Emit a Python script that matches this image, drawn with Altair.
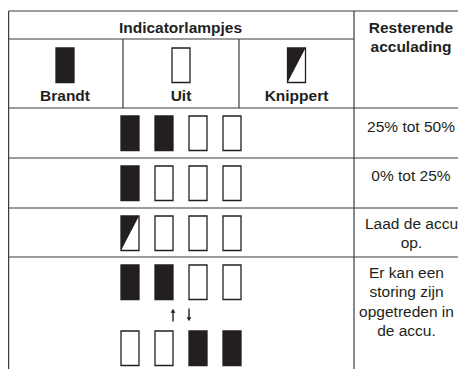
import altair as alt
import pandas as pd

# ---------------- content ----------------
header_left = "Indicatorlampjes"
header_right = ["Resterende", "acculading"]
legend_labels = ["Brandt", "Uit", "Knippert"]
legend_states = ["aan", "uit", "knippert"]
row_patterns = [
    [["aan", "aan", "uit", "uit"]],
    [["aan", "uit", "uit", "uit"]],
    [["knippert", "uit", "uit", "uit"]],
    [["aan", "aan", "uit", "uit"], ["uit", "uit", "aan", "aan"]],
]
row_texts = [
    ["25% tot 50%"],
    ["0% tot 25%"],
    ["Laad de accu", "op."],
    ["Er kan een", "storing zijn", "opgetreden in", "de accu."],
]
arrow_dirs = ["op", "neer"]  # wissel tussen de twee patronen in rij 4

# ---------------- layout (page pixels) ----------------
COL = [7, 123, 239, 354, 466]          # column edges
ROW = [11, 39, 108, 158, 208, 257, 380]  # row edges
LAMP_W, LAMP_H, LAMP_GAP = 18, 34.5, 34
LAMP_TOP = 8
PATTERN_STEP = 66
GROUP_CX = (COL[0] + COL[3]) / 2 + 0.5
TEXT_X = (COL[3] + COL[4]) / 2
TEXT_DX = [1, 1, 1.5, -3.5]
FS = 15.5
LINE_H = 19.3
FIRST_BASELINE = [24, 22.5, 21, 21]
INK = "#231f20"
LINE = "#3a3a3a"
FONT = "Liberation Sans"

W, H = 450, 361
XS = alt.Scale(domain=[8, 8 + W], nice=False, zero=False)
YS = alt.Scale(domain=[8, 8 + H], nice=False, zero=False, reverse=True)

# ---------------- grid lines ----------------
left = COL[0] + 1.6  # keep the outer border inside the page
lines = [
    (left, ROW[0], COL[4], ROW[0]),
    (left, ROW[1], COL[3], ROW[1]),
    (left, ROW[2], COL[4], ROW[2]),
    (left, ROW[3], COL[4], ROW[3]),
    (left, ROW[4], COL[4], ROW[4]),
    (left, ROW[5], COL[4], ROW[5]),
    (left, ROW[0], left, ROW[6]),
    (COL[3], ROW[0], COL[3], ROW[6]),
    (COL[1], ROW[1], COL[1], ROW[2]),
    (COL[2], ROW[1], COL[2], ROW[2]),
]
lines_df = pd.DataFrame(lines, columns=["x", "y", "x2", "y2"])

# ---------------- lamps ----------------
lamps = []
for c, st in enumerate(legend_states):
    cx = (COL[c] + COL[c + 1]) / 2
    top = ROW[1] + 9
    lamps.append(dict(id=f"L{c}", state=st, x=cx - LAMP_W / 2, x2=cx + LAMP_W / 2,
                      y=top, y2=top + LAMP_H))
for r, pats in enumerate(row_patterns):
    for p, pat in enumerate(pats):
        top = ROW[r + 2] + LAMP_TOP + p * PATTERN_STEP
        for k, st in enumerate(pat):
            cx = GROUP_CX + (k - 1.5) * LAMP_GAP
            lamps.append(dict(id=f"R{r}P{p}K{k}", state=st, x=cx - LAMP_W / 2,
                              x2=cx + LAMP_W / 2, y=top, y2=top + LAMP_H))
lamps_df = pd.DataFrame(lamps)

# blinking lamps: black upper-left triangle
tri = []
for _, l in lamps_df[lamps_df.state == "knippert"].iterrows():
    tri.append(dict(id=l.id, x=l.x, y=l.y, y2=l.y2))
    tri.append(dict(id=l.id, x=l.x2, y=l.y, y2=l.y))
tri_df = pd.DataFrame(tri)

# ---------------- arrows (row 4) ----------------
a_top = ROW[5] + LAMP_TOP + LAMP_H + 9
a_bot = a_top + 13
arrows = []
shafts = []
for i, d in enumerate(arrow_dirs):
    ax = GROUP_CX + (i - 0.5) * 16
    if d == "op":
        shafts.append(dict(x=ax, y=a_top + 3, y2=a_bot))
        arrows.append(dict(x=ax, y=a_top + 2.2, dir=d))
    else:
        shafts.append(dict(x=ax, y=a_top, y2=a_bot - 3))
        arrows.append(dict(x=ax, y=a_bot - 2.2, dir=d))
shaft_df = pd.DataFrame(shafts)
head_df = pd.DataFrame(arrows)

# ---------------- texts ----------------
bold = [dict(text=header_left, x=(COL[0] + COL[3]) / 2, y=ROW[0] + 22)]
for i, t in enumerate(header_right):
    bold.append(dict(text=t, x=TEXT_X + 1, y=ROW[0] + 22 + i * 19))
for c, t in enumerate(legend_labels):
    bold.append(dict(text=t, x=(COL[c] + COL[c + 1]) / 2, y=ROW[2] - 7))
bold_df = pd.DataFrame(bold)

reg = []
for r, tl in enumerate(row_texts):
    for i, t in enumerate(tl):
        reg.append(dict(text=t, x=TEXT_X + TEXT_DX[r],
                        y=ROW[r + 2] + FIRST_BASELINE[r] + i * LINE_H))
reg_df = pd.DataFrame(reg)

X = lambda f="x": alt.X(f"{f}:Q", scale=XS, axis=None)
Y = lambda f="y": alt.Y(f"{f}:Q", scale=YS, axis=None)

grid = alt.Chart(lines_df).mark_rule(color=LINE, strokeWidth=1.2).encode(
    x=X(), y=Y(), x2="x2:Q", y2="y2:Q")

lamp_layer = alt.Chart(lamps_df).mark_rect(stroke=INK, strokeWidth=1.3).encode(
    x=X(), x2="x2:Q", y=Y(), y2="y2:Q",
    fill=alt.Fill("state:N", scale=alt.Scale(domain=["aan", "uit", "knippert"],
                                             range=[INK, "white", "white"]), legend=None))

tri_layer = alt.Chart(tri_df).mark_area(color=INK, opacity=1).encode(
    x=X(), y=Y(), y2="y2:Q", detail="id:N")

shaft_layer = alt.Chart(shaft_df).mark_rule(color=INK, strokeWidth=1.4).encode(
    x=X(), y=Y(), y2="y2:Q")

head_layer = alt.Chart(head_df).mark_point(filled=True, size=22, color=INK, opacity=1).encode(
    x=X(), y=Y(),
    shape=alt.Shape("dir:N", scale=alt.Scale(domain=["op", "neer"],
                                             range=["triangle-up", "triangle-down"]), legend=None))

bold_layer = alt.Chart(bold_df).mark_text(font=FONT, fontSize=FS, fontWeight="bold",
                                          color=INK, baseline="alphabetic", align="center").encode(
    x=X(), y=Y(), text="text:N")

reg_layer = alt.Chart(reg_df).mark_text(font=FONT, fontSize=FS, color=INK,
                                        baseline="alphabetic", align="center").encode(
    x=X(), y=Y(), text="text:N")

chart = alt.layer(grid, lamp_layer, tri_layer, shaft_layer, head_layer,
                  bold_layer, reg_layer).properties(
    width=W, height=H, padding=0, autosize=alt.AutoSizeParams(type="none"),
    background="white"
).configure_view(stroke=None)

chart.save("out.html", embed_options={"renderer": "svg", "actions": False})
